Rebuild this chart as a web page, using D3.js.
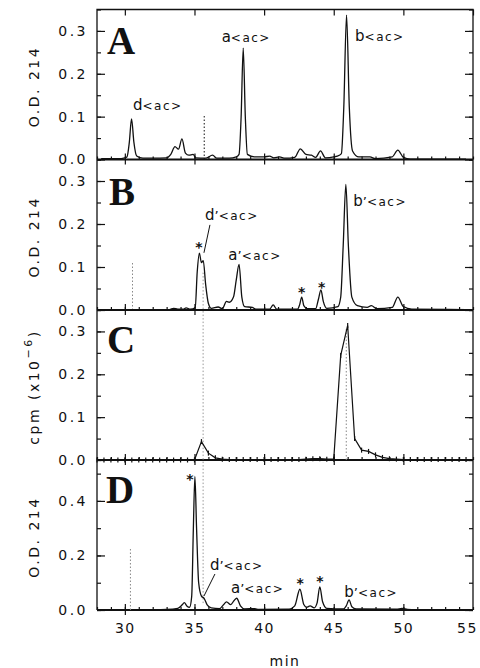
<!DOCTYPE html>
<html>
<head>
<meta charset="utf-8">
<script src="https://cdn.jsdelivr.net/npm/d3@7"></script>
<style>
  body { margin: 0; background: #fff; }
  text { font-family: "DejaVu Sans", sans-serif; fill: #111; }
</style>
</head>
<body>
<script>
'use strict';

// ---- data (time in min, absorbance / cpm) ----
const xTicks = [30, 35, 40, 45, 50, 55];
const yTicksSmall = [0, 0.1, 0.2, 0.3];
const yTicksD = [0, 0.2, 0.4];

// panel A : O.D. 214
const traceA = [
  [28.3,0.002],[29.5,0.002],[30.0,0.004],[30.15,0.006],[30.32,0.04],[30.48,0.095],[30.65,0.04],[30.85,0.008],
  [31.3,0.003],[32.0,0.003],[33.0,0.004],[33.3,0.012],[33.6,0.03],[33.85,0.024],[34.1,0.048],[34.35,0.015],
  [34.6,0.01],[34.9,0.012],[35.1,0.004],[35.8,0.003],[36.3,0.01],[36.6,0.003],[37.5,0.003],[38.0,0.006],
  [38.2,0.012],[38.35,0.1],[38.5,0.26],[38.65,0.1],[38.8,0.012],[39.3,0.006],[40.0,0.006],[40.4,0.008],
  [40.7,0.004],[41.1,0.006],[41.5,0.003],[42.2,0.005],[42.6,0.025],[43.0,0.012],[43.4,0.01],[43.7,0.005],
  [44.05,0.02],[44.4,0.004],[45.0,0.006],[45.4,0.01],[45.55,0.014],[45.72,0.12],[45.92,0.337],[46.12,0.12],
  [46.35,0.02],[46.8,0.006],[47.6,0.006],[48.0,0.002],[49.2,0.006],[49.6,0.022],[50.0,0.005],[50.5,0.001],[54.5,0.001]
];

// panel B : O.D. 214
const traceB = [
  [28.3,0.001],[33.2,0.001],[33.5,0.004],[33.8,0.002],[34.2,0.002],[34.4,0.005],[34.7,0.002],[35.05,0.005],
  [35.2,0.09],[35.35,0.132],[35.5,0.11],[35.63,0.115],[35.8,0.06],[36.0,0.015],[36.2,0.004],[36.7,0.007],
  [37.0,0.003],[37.3,0.02],[37.5,0.018],[37.8,0.03],[38.0,0.07],[38.2,0.106],[38.4,0.03],[38.6,0.008],
  [39.15,0.006],[39.4,0.002],[40.4,0.002],[40.65,0.012],[40.9,0.002],[42.4,0.002],[42.55,0.012],[42.7,0.03],
  [42.85,0.01],[43.1,0.003],[43.7,0.003],[43.9,0.025],[44.08,0.047],[44.25,0.02],[44.5,0.004],[45.3,0.008],
  [45.5,0.03],[45.68,0.15],[45.87,0.292],[46.05,0.15],[46.3,0.03],[46.7,0.01],[47.4,0.006],[47.7,0.01],
  [48.1,0.003],[49.2,0.006],[49.6,0.03],[50.0,0.008],[50.6,0.002],[54.5,0.001]
];

// panel C : radioactivity, one fraction every 0.5 min
const fractionTimes = [
  28,28.5,29,29.5,30,30.5,31,31.5,32,32.5,33,33.5,34,34.5,35,35.5,36,36.5,37,37.5,38,38.5,39,39.5,40,40.5,
  41,41.5,42,42.5,43,43.5,44,44.5,45,45.5,46,46.5,47,47.5,48,48.5,49,49.5,50,50.5,51,51.5,52,52.5,53,53.5,54,54.5
];
const fractionCpm = [
  0,0,0,0,0,0,0,0,0,0,0,0,0,0,0,0.043,0.016,0.005,0.002,0.001,0.001,0.001,0.001,0.001,0.001,0.001,
  0.001,0.001,0.001,0.001,0.002,0.003,0.003,0.002,0.002,0.244,0.314,0.05,0.023,0.02,0.012,0.006,0.003,0.002,
  0.001,0.001,0.001,0.001,0.001,0.001,0.001,0.001,0.001,0.001
];

// panel D : O.D. 214
const traceD = [
  [30.8,0.0],[33.0,0.002],[33.8,0.006],[34.1,0.018],[34.27,0.027],[34.45,0.015],[34.65,0.01],[34.8,0.05],
  [34.92,0.3],[35.03,0.49],[35.15,0.3],[35.3,0.1],[35.5,0.051],[35.7,0.042],[35.9,0.02],[36.2,0.008],
  [36.8,0.005],[37.1,0.02],[37.3,0.03],[37.6,0.02],[37.85,0.035],[38.03,0.043],[38.3,0.015],[38.6,0.004],
  [39.34,0.005],[39.6,0.002],[41.8,0.003],[42.2,0.015],[42.57,0.076],[42.85,0.02],[43.05,0.01],[43.3,0.015],
  [43.6,0.008],[43.8,0.025],[44.0,0.085],[44.2,0.03],[44.5,0.006],[45.7,0.004],[45.9,0.015],[46.1,0.037],
  [46.3,0.012],[46.6,0.004],[49.5,0.003],[49.9,0.006],[50.3,0.002],[51.0,0.0]
];

// peak labels: panel, name, primed?, anchor (min, value)
const peakLabels = [
  ['A','d',false,30.585,0.1155],['A','a',false,36.95,0.275],['A','b',false,46.53,0.277],
  ['B','d',true,35.755,0.21],['B','a',true,37.43,0.1167],['B','b',true,46.4,0.241],
  ['D','d',true,36.11,0.1467],['D','a',true,37.62,0.062],['D','b',true,45.76,0.049]
];
const asterisks = [
  ['B',35.32,0.153],['B',42.7,0.048],['B',44.14,0.06],
  ['D',34.68,0.49],['D',42.58,0.11],['D',44.01,0.117]
];
const leaders = [
  ['B',36.11,0.198,35.68,0.133],
  ['D',36.47,0.132,35.68,0.051]
];
// dotted marker lines: panel, time, from, to, grey?
const markerLines = [
  ['A',35.7,0,0.105,false],
  ['B',30.55,0,0.11,true],
  ['D',30.4,0,0.23,true],
  ['C',45.9,0,0.31,true]
];

// ---- layout ----
const width = 480, height = 668;
const left = 97, right = 473;

const svg = d3.select('body').append('svg')
  .attr('width', width)
  .attr('height', height);

const x = d3.scaleLinear().domain([28, 55]).range([left, right]);

const panels = {
  A: { top: 9.5,  bottom: 159.5, max: 0.35, ticks: yTicksSmall, minor: 0.05, title: 'od', tx: 107, ty: 54 },
  B: { top: 159.5, bottom: 310,  max: 0.35, ticks: yTicksSmall, minor: 0.05, title: 'od', tx: 109, ty: 205 },
  C: { top: 310,  bottom: 460,  max: 0.35, ticks: yTicksSmall, minor: 0.05, title: 'cpm', tx: 107, ty: 353 },
  D: { top: 460,  bottom: 610,  max: 0.55, ticks: yTicksD,     minor: 0.1,  title: 'od', tx: 106, ty: 503 }
};

Object.keys(panels).forEach(k => {
  let p = panels[k];
  p.y = d3.scaleLinear().domain([0, p.max]).range([p.bottom, p.top]);
});

// draw the y axes of one panel (left with labels, right without)
function drawYAxes(p) {
  let minorVals = d3.range(0, p.max + 1e-9, p.minor);

  svg.append('g')
    .attr('transform', 'translate(' + left + ',0)')
    .call(d3.axisLeft(p.y).tickValues(minorVals).tickSize(-4).tickFormat(''))
    .call(g => g.select('.domain').remove());

  svg.append('g')
    .attr('transform', 'translate(' + left + ',0)')
    .call(d3.axisLeft(p.y).tickValues(p.ticks).tickSizeInner(-8).tickPadding(9).tickFormat(d3.format('.1f')))
    .call(g => g.select('.domain').remove())
    .call(g => g.selectAll('text').style('font-size', '14px').style('letter-spacing', '2.5px'));

  svg.append('g')
    .attr('transform', 'translate(' + right + ',0)')
    .call(d3.axisRight(p.y).tickValues(minorVals).tickSize(-4).tickFormat(''))
    .call(g => g.select('.domain').remove());

  svg.append('g')
    .attr('transform', 'translate(' + right + ',0)')
    .call(d3.axisRight(p.y).tickValues(p.ticks).tickSize(-8).tickFormat(''))
    .call(g => g.select('.domain').remove());
}

// draw the time axis along the zero line of one panel
function drawXAxis(p, withLabels) {
  let minorT = d3.range(28, 55.01, 1);

  svg.append('g')
    .attr('transform', 'translate(0,' + p.bottom + ')')
    .call(d3.axisTop(x).tickValues(minorT).tickSize(3).tickFormat(''))
    .call(g => g.select('.domain').remove());

  // major ticks cross the line
  svg.append('g')
    .attr('transform', 'translate(0,' + (p.bottom + 5) + ')')
    .call(d3.axisTop(x).tickValues(xTicks.filter(t => t < 55)).tickSize(11).tickFormat(''))
    .call(g => g.select('.domain').remove());

  svg.append('line')
    .attr('x1', left).attr('x2', right)
    .attr('y1', p.bottom).attr('y2', p.bottom)
    .attr('stroke', '#111')
    .attr('stroke-width', 2);

  if (withLabels) {
    svg.append('g')
      .attr('transform', 'translate(0,' + p.bottom + ')')
      .call(d3.axisBottom(x).tickValues(xTicks).tickSize(0).tickPadding(13))
      .call(g => g.select('.domain').remove())
      .call(g => g.selectAll('text').style('font-size', '14px').style('letter-spacing', '1.5px'))
      .call(g => g.selectAll('.tick').filter(d => d === 55).select('text').attr('dx', -6));
  }
}

Object.keys(panels).forEach(k => {
  drawYAxes(panels[k]);
  drawXAxis(panels[k], k === 'D');
});

// top ticks of the frame
svg.append('g')
  .attr('transform', 'translate(0,' + panels.A.top + ')')
  .call(d3.axisBottom(x).tickValues(xTicks).tickSize(6).tickFormat(''))
  .call(g => g.select('.domain').remove());

// frame
svg.append('path')
  .attr('d', 'M' + left + ',' + panels.D.bottom + 'V' + panels.A.top + 'H' + right + 'V' + panels.D.bottom)
  .attr('fill', 'none')
  .attr('stroke', '#111')
  .attr('stroke-width', 1.3);

svg.selectAll('.tick line').attr('stroke', '#111').attr('stroke-width', 1.2);

// dotted marker lines
markerLines.forEach(m => {
  let p = panels[m[0]];
  svg.append('line')
    .attr('x1', x(m[1])).attr('x2', x(m[1]))
    .attr('y1', p.y(m[2])).attr('y2', p.y(m[3]))
    .attr('stroke', m[4] ? '#888' : '#111')
    .attr('stroke-width', 1)
    .attr('stroke-dasharray', '1.5,2');
});

// long grey dotted line running from B down into D
svg.append('line')
  .attr('x1', x(35.62)).attr('x2', x(35.62))
  .attr('y1', panels.B.y(0.087)).attr('y2', panels.D.y(0.02))
  .attr('stroke', '#999')
  .attr('stroke-width', 1)
  .attr('stroke-dasharray', '1.5,2');

// traces
let curvedLine = p => d3.line()
  .x(d => x(d[0]))
  .y(d => p.y(d[1]))
  .curve(d3.curveMonotoneX);

[['A', traceA], ['B', traceB], ['D', traceD]].forEach(t => {
  svg.append('path')
    .datum(t[1])
    .attr('fill', 'none')
    .attr('stroke', '#111')
    .attr('stroke-width', 1.3)
    .attr('stroke-linejoin', 'round')
    .attr('d', curvedLine(panels[t[0]]));
});

let fractions = fractionTimes.map((t, i) => [t, fractionCpm[i]]);
svg.append('path')
  .datum(fractions)
  .attr('fill', 'none')
  .attr('stroke', '#111')
  .attr('stroke-width', 1.2)
  .attr('d', d3.line().x(d => x(d[0])).y(d => panels.C.y(d[1])));

svg.selectAll('.frac')
  .data(fractions)
  .enter()
  .append('line')
    .attr('x1', d => x(d[0])).attr('x2', d => x(d[0]))
    .attr('y1', d => panels.C.y(d[1]) - 2.5)
    .attr('y2', d => panels.C.y(d[1]) + 2.5)
    .attr('stroke', '#111')
    .attr('stroke-width', 1.2);

// panel letters
Object.keys(panels).forEach(k => {
  let p = panels[k];
  svg.append('text')
    .attr('x', p.tx)
    .attr('y', p.ty)
    .style('font-family', '"Liberation Serif", serif')
    .style('font-size', '39px')
    .style('font-weight', 'bold')
    .text(k);
});

// y axis titles
Object.keys(panels).forEach(k => {
  let p = panels[k];
  let cy = (p.top + p.bottom) / 2 + 2;
  let t = svg.append('text')
    .attr('transform', 'translate(39,' + cy + ')rotate(-90)')
    .attr('text-anchor', 'middle')
    .style('font-size', '14px')
    .style('letter-spacing', '2.5px');
  if (p.title === 'od') {
    t.text('O.D.  214');
  } else {
    t.append('tspan').text('cpm  (x10');
    t.append('tspan').attr('dy', -7).style('font-size', '11px').text('−6');
    t.append('tspan').attr('dy', 7).text(')');
  }
});

// x axis title
svg.append('text')
  .attr('x', 285)
  .attr('y', 666)
  .attr('text-anchor', 'middle')
  .style('font-size', '14px')
  .style('letter-spacing', '1.5px')
  .text('min');

// peak labels
peakLabels.forEach(l => {
  let p = panels[l[0]];
  let t = svg.append('text')
    .attr('x', x(l[3]))
    .attr('y', p.y(l[4]))
    .style('font-size', '15px');
  t.append('tspan').text(l[1]);
  if (l[2]) t.append('tspan').style('font-size', '13px').text('’');
  t.append('tspan').style('font-size', '12px').style('letter-spacing', '1.5px').text('<ac>');
});

asterisks.forEach(a => {
  let p = panels[a[0]];
  svg.append('text')
    .attr('x', x(a[1]))
    .attr('y', p.y(a[2]) + 8)
    .attr('text-anchor', 'middle')
    .style('font-size', '14px')
    .style('font-weight', 'bold')
    .text('*');
});

leaders.forEach(l => {
  let p = panels[l[0]];
  svg.append('line')
    .attr('x1', x(l[1])).attr('y1', p.y(l[2]))
    .attr('x2', x(l[3])).attr('y2', p.y(l[4]))
    .attr('stroke', '#111')
    .attr('stroke-width', 1);
});
</script>
</body>
</html>
